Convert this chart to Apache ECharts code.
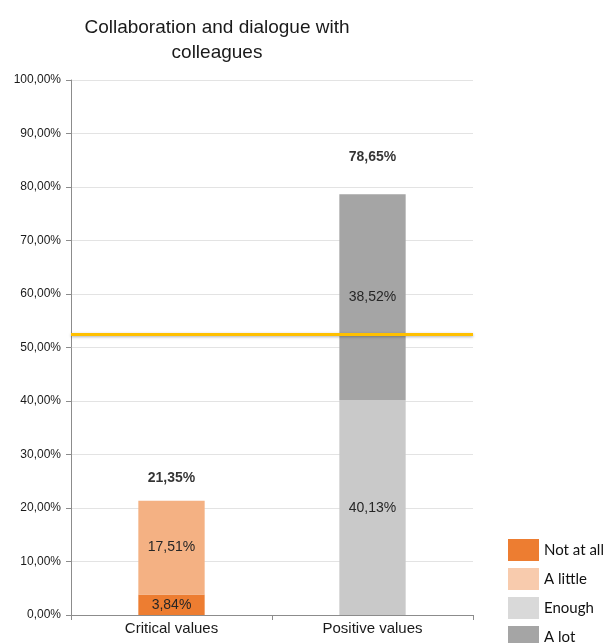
<!DOCTYPE html>
<html>
<head>
<meta charset="utf-8">
<script src="https://cdn.jsdelivr.net/npm/echarts@6/dist/echarts.min.js"></script>
<style>
  html, body { margin: 0; padding: 0; background: #fff; }
  #chart { width: 607px; height: 643px; }
</style>
</head>
<body>
<div id="chart"></div>
<script>
// data
const categories = ['Critical values', 'Positive values'];
const notAtAll = [3.84, null];
const aLittle = [17.51, null];
const enough = [null, 40.13];
const aLot = [null, 38.52];
const totals = [21.35, 78.65];
const meanLine = 52.5;
const yTicks = { min: 0, max: 100, interval: 10 };

const pct = (v) => v.toFixed(2).replace('.', ',') + '%';
const ARIAL = "'Liberation Sans', Arial, sans-serif";

const chart = echarts.init(document.getElementById('chart'), null, { renderer: 'canvas' });

const segLabel = {
  show: true,
  position: 'inside',
  color: '#262626',
  fontFamily: ARIAL,
  fontSize: 14,
  formatter: (p) => (p.value == null ? '' : pct(p.value)),
};

function seg(name, data, color) {
  return {
    name,
    type: 'bar',
    stack: 'total',
    barWidth: '33%',
    data,
    itemStyle: { color },
    label: segLabel,
    emphasis: { disabled: true },
  };
}

const option = {
  backgroundColor: '#fff',
  animation: false,
  title: {
    text: 'Collaboration and dialogue with\ncolleagues',
    left: 212,
    textAlign: 'center',
    top: 10,
    textStyle: {
      fontFamily: ARIAL,
      fontWeight: 'normal',
      fontSize: 19,
      lineHeight: 25,
      color: '#1a1a1a',
    },
  },
  legend: {
    orient: 'vertical',
    left: 508,
    top: 539,
    height: 140,
    padding: 0,
    itemWidth: 31,
    itemHeight: 22,
    itemGap: 7,
    icon: 'rect',
    selectedMode: false,
    textStyle: { fontFamily: 'Lato, Open Sans', fontSize: 15, color: '#111' },
    data: [
      { name: 'Not at all', itemStyle: { color: '#ED7D31' } },
      { name: 'A little', itemStyle: { color: '#F8CBAD' } },
      { name: 'Enough', itemStyle: { color: '#D9D9D9' } },
      { name: 'A lot', itemStyle: { color: '#A5A5A5' } },
    ],
  },
  grid: { left: 71, right: 134, top: 80, bottom: 28 },
  xAxis: {
    type: 'category',
    data: categories,
    axisLine: { lineStyle: { color: '#8c8c8c' } },
    axisTick: { show: true, length: 5, lineStyle: { color: '#8c8c8c' } },
    axisLabel: {
      color: '#1a1a1a',
      fontFamily: ARIAL,
      fontSize: 15,
      margin: 6,
    },
  },
  yAxis: {
    type: 'value',
    min: yTicks.min,
    max: yTicks.max,
    interval: yTicks.interval,
    axisLine: { show: true, lineStyle: { color: '#8c8c8c' } },
    axisTick: { show: true, length: 5, lineStyle: { color: '#8c8c8c' } },
    axisLabel: {
      color: '#1a1a1a',
      fontFamily: ARIAL,
      fontSize: 12,
      margin: 10,
      formatter: (v) => pct(v),
    },
    splitLine: { show: true, lineStyle: { color: '#e3e3e3', width: 1 } },
  },
  series: [
    Object.assign(seg('Not at all', notAtAll, '#ED7D31'), {
      markLine: {
        silent: true,
        symbol: 'none',
        label: { show: false },
        lineStyle: {
          color: '#FFC000',
          width: 3,
          type: 'solid',
          shadowColor: 'rgba(0,0,0,0.3)',
          shadowBlur: 3,
          shadowOffsetY: 1,
        },
        data: [{ yAxis: meanLine }],
      },
    }),
    seg('A little', aLittle, '#F4B183'),
    seg('Enough', enough, '#C9C9C9'),
    seg('A lot', aLot, '#A5A5A5'),
    {
      name: 'Total',
      type: 'scatter',
      data: totals.map((v, i) => ({
        value: v,
        label: { offset: [0, i === 0 ? -11 : -25] },
      })),
      symbolSize: 0,
      label: {
        show: true,
        position: 'top',
        color: '#000',
        fontFamily: ARIAL,
        fontSize: 14,
        fontWeight: 'bold',
        formatter: (p) => pct(p.value),
      },
      emphasis: { disabled: true },
    },
  ],
};

chart.setOption(option);
</script>
</body>
</html>
